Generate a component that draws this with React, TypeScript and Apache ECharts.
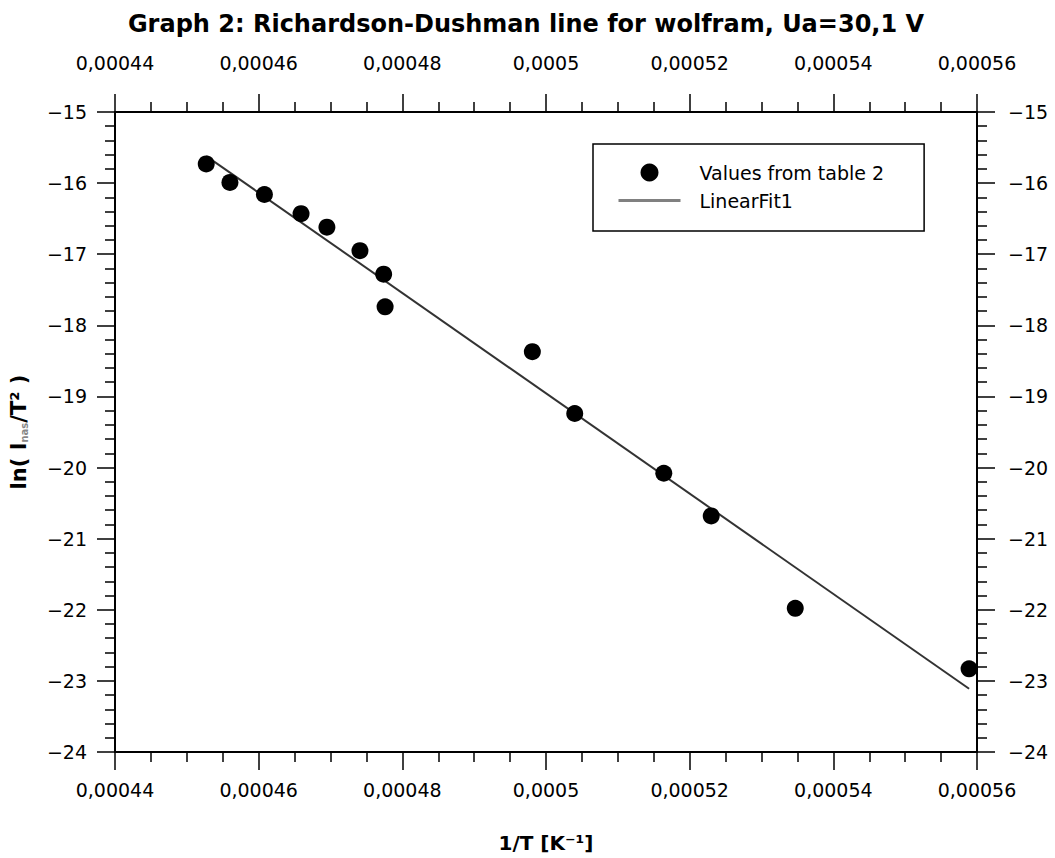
import React, { useEffect, useRef } from "react";
import * as echarts from "echarts";

const invT = [0.0004527, 0.000456, 0.0004608, 0.0004659, 0.0004695, 0.0004741, 0.0004774, 0.0004776, 0.0004981, 0.000504, 0.0005164, 0.000523, 0.0005347, 0.0005589];
const lnIT2 = [-15.73, -15.99, -16.16, -16.43, -16.62, -16.95, -17.28, -17.74, -18.37, -19.24, -20.08, -20.68, -21.98, -22.83];
const fitX = [0.0004527, 0.0005589];
const fitY = [-15.62, -23.11];
const xTicks = { min: 0.00044, max: 0.00056, step: 0.00002 };
const yTicks = { min: -24, max: -15, step: 1 };

const FONT = "DejaVu Sans";

const fmtX = (v: number) => String(+v.toPrecision(6)).replace(".", ",");
const fmtY = (v: number) => String(v).replace("-", "\u2212");

export default function App() {
  const ref = useRef<HTMLDivElement>(null);
  useEffect(() => {
    if (!ref.current) return;
    const chart = echarts.init(ref.current, null, { renderer: "svg" });
    const axisCommon = {
      axisLine: { show: true, onZero: false, lineStyle: { color: "#000", width: 2 } },
      axisTick: { show: true, inside: false, length: 18, lineStyle: { color: "#000", width: 1.5 } },
      minorTick: { show: true, length: 10, lineStyle: { color: "#000", width: 1.5 } },
      splitLine: { show: false },
      minorSplitLine: { show: false },
    };
    const labelStyle = { color: "#000", fontFamily: FONT, fontSize: 19 };
    const xBase = {
      ...axisCommon,
      type: "value",
      min: xTicks.min,
      max: xTicks.max,
      interval: xTicks.step,
      minorTick: { ...axisCommon.minorTick, splitNumber: 4 },
    };
    const yBase = {
      ...axisCommon,
      type: "value",
      min: yTicks.min,
      max: yTicks.max,
      interval: yTicks.step,
      minorTick: { ...axisCommon.minorTick, splitNumber: 5 },
    };
    chart.setOption({
      animation: false,
      backgroundColor: "#fff",
      title: {
        text: "Graph 2: Richardson-Dushman line for wolfram, Ua=30,1 V",
        left: 521,
        textAlign: "center",
        top: 7,
        textStyle: { fontFamily: FONT, fontSize: 24, fontWeight: "bold", color: "#000" },
      },
      grid: { left: 113, right: 78, top: 112, bottom: 99 },
      legend: {
        orient: "vertical",
        left: 593,
        top: 144,
        padding: [19, 40, 21, 24],
        itemGap: 9,
        itemWidth: 62,
        itemHeight: 18,
        borderColor: "#000",
        borderWidth: 1.5,
        textStyle: { fontFamily: FONT, fontSize: 19, color: "#000", padding: [0, 0, 0, 14] },
        data: [
          { name: "Values from table 2", icon: "circle", itemStyle: { color: "#000", opacity: 1 } },
          {
            name: "LinearFit1",
            itemStyle: { color: "rgba(0,0,0,0)", borderColor: "rgba(0,0,0,0)", borderWidth: 0, opacity: 0 },
            lineStyle: { color: "#808080", width: 3 },
          },
        ],
      },
      xAxis: [
        {
          ...xBase,
          position: "bottom",
          name: "1/T [K⁻¹]",
          nameLocation: "middle",
          nameGap: 81,
          nameTextStyle: { fontFamily: FONT, fontSize: 20, fontWeight: "bold", color: "#000" },
          axisLabel: { ...labelStyle, margin: 28, formatter: fmtX },
        },
        {
          ...xBase,
          position: "top",
          axisLabel: { ...labelStyle, margin: 40, formatter: fmtX },
        },
      ],
      yAxis: [
        {
          ...yBase,
          position: "left",
          name: "ln( I{s|nas}/T² )",
          nameLocation: "middle",
          nameGap: 86,
          nameTextStyle: {
            fontFamily: FONT,
            fontSize: 21,
            fontWeight: "bold",
            color: "#000",
            rich: { s: { fontFamily: FONT, fontSize: 10, color: "#888", verticalAlign: "bottom", padding: [9, 0, 0, 0] } },
          },
          axisLabel: { ...labelStyle, margin: 28, padding: [0, 0, 10, 0], formatter: fmtY },
        },
        {
          ...yBase,
          position: "right",
          axisLabel: { ...labelStyle, margin: 31, padding: [0, 0, 10, 0], formatter: fmtY },
        },
      ],
      series: [
        {
          name: "Values from table 2",
          type: "scatter",
          symbol: "circle",
          symbolSize: 17,
          itemStyle: { color: "#000", opacity: 1 },
          data: invT.map((x, i) => [x, lnIT2[i]]),
          z: 3,
        },
        {
          name: "LinearFit1",
          type: "line",
          symbol: "none",
          lineStyle: { color: "#333", width: 2 },
          data: fitX.map((x, i) => [x, fitY[i]]),
          z: 2,
        },
      ],
    });
    return () => chart.dispose();
  }, []);
  return <div ref={ref} style={{ position: "fixed", left: 0, top: 0, width: 1055, height: 858 }} />;
}
